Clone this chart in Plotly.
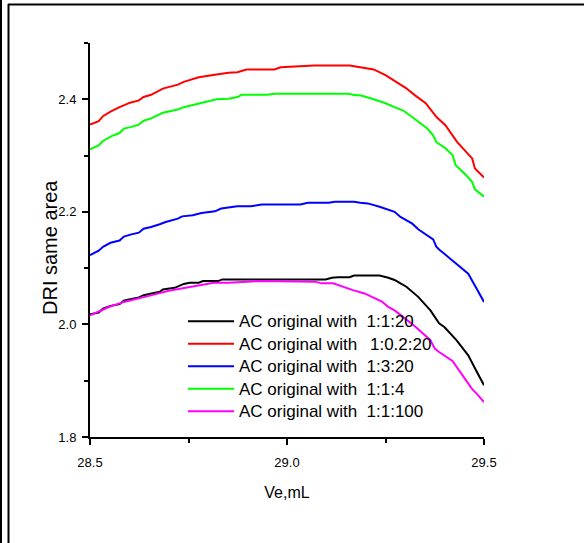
import plotly.graph_objects as go

# ---- data ----
x_red = [28.500, 28.522, 28.533, 28.552, 28.575, 28.602, 28.624, 28.636, 28.655, 28.685, 28.723, 28.738,
         28.776, 28.791, 28.821, 28.852, 28.874, 28.897, 28.968, 28.984, 29.068, 29.159, 29.186, 29.220,
         29.250, 29.280, 29.302, 29.325, 29.352, 29.380, 29.402, 29.432, 29.470, 29.477, 29.500]
y_red = [2.355, 2.361, 2.370, 2.378, 2.386, 2.394, 2.398, 2.404, 2.408, 2.419, 2.426, 2.431,
         2.439, 2.441, 2.444, 2.447, 2.448, 2.453, 2.453, 2.457, 2.460, 2.460, 2.457, 2.453,
         2.443, 2.429, 2.420, 2.407, 2.393, 2.368, 2.354, 2.324, 2.295, 2.277, 2.261]

x_green = [28.500, 28.522, 28.533, 28.556, 28.575, 28.586, 28.605, 28.624, 28.636, 28.655, 28.685, 28.723,
           28.738, 28.776, 28.791, 28.821, 28.852, 28.874, 28.885, 28.950, 28.968, 29.155, 29.174, 29.186,
           29.220, 29.250, 29.273, 29.295, 29.326, 29.356, 29.371, 29.379, 29.402, 29.420, 29.428, 29.455,
           29.470, 29.477, 29.500]
y_green = [2.311, 2.318, 2.326, 2.335, 2.340, 2.348, 2.351, 2.355, 2.362, 2.366, 2.376, 2.382,
           2.386, 2.392, 2.394, 2.400, 2.401, 2.404, 2.408, 2.408, 2.410, 2.410, 2.407, 2.407,
           2.400, 2.393, 2.386, 2.380, 2.364, 2.348, 2.336, 2.324, 2.313, 2.301, 2.283, 2.265,
           2.253, 2.240, 2.227]

x_blue = [28.500, 28.522, 28.533, 28.552, 28.575, 28.586, 28.605, 28.624, 28.636, 28.655, 28.677, 28.692,
          28.723, 28.734, 28.761, 28.783, 28.817, 28.833, 28.874, 28.909, 28.936, 29.034, 29.053, 29.106,
          29.121, 29.170, 29.186, 29.205, 29.235, 29.273, 29.288, 29.318, 29.333, 29.356, 29.371, 29.379,
          29.386, 29.400, 29.430, 29.460, 29.480, 29.500]
y_blue = [2.123, 2.131, 2.138, 2.145, 2.149, 2.156, 2.160, 2.163, 2.170, 2.173, 2.178, 2.182,
          2.188, 2.192, 2.194, 2.198, 2.201, 2.206, 2.210, 2.210, 2.213, 2.213, 2.216, 2.216,
          2.218, 2.218, 2.216, 2.215, 2.209, 2.200, 2.191, 2.179, 2.169, 2.159, 2.151, 2.138,
          2.133, 2.125, 2.108, 2.090, 2.065, 2.040]

x_black = [28.500, 28.522, 28.533, 28.552, 28.575, 28.586, 28.605, 28.624, 28.636, 28.677, 28.685, 28.715,
           28.738, 28.753, 28.776, 28.787, 28.825, 28.836, 29.098, 29.114, 29.129, 29.159, 29.170, 29.235,
           29.257, 29.273, 29.288, 29.303, 29.333, 29.364, 29.386, 29.400, 29.430, 29.460, 29.480, 29.500]
y_black = [2.018, 2.021, 2.028, 2.033, 2.036, 2.042, 2.045, 2.048, 2.052, 2.058, 2.062, 2.065,
           2.072, 2.074, 2.074, 2.077, 2.077, 2.080, 2.080, 2.083, 2.084, 2.084, 2.087, 2.087,
           2.083, 2.079, 2.073, 2.067, 2.049, 2.025, 2.002, 1.995, 1.972, 1.945, 1.918, 1.892]

x_magenta = [28.500, 28.548, 28.586, 28.624, 28.662, 28.700, 28.730, 28.776, 28.814, 28.852, 28.889, 28.927,
             29.072, 29.087, 29.117, 29.136, 29.167, 29.197, 29.220, 29.242, 29.257, 29.273, 29.288, 29.326,
             29.364, 29.375, 29.386, 29.420, 29.450, 29.470, 29.480, 29.500]
y_magenta = [2.016, 2.031, 2.040, 2.046, 2.053, 2.060, 2.064, 2.070, 2.074, 2.074, 2.076, 2.077,
             2.076, 2.073, 2.073, 2.068, 2.061, 2.055, 2.048, 2.040, 2.031, 2.025, 2.017, 1.996,
             1.972, 1.957, 1.951, 1.935, 1.905, 1.885, 1.878, 1.862]

series_names = ["AC original with&nbsp; 1:1:20", "AC original with&nbsp;&#8201; 1:0.2:20",
                "AC original with&nbsp; 1:3:20", "AC original with&nbsp; 1:1:4",
                "AC original with&nbsp; 1:1:100"]
series_colors = ["#000000", "#ff0000", "#0000ff", "#00ff00", "#ff00ff"]

x_ticks = [28.5, 29.0, 29.5]
x_ticklabels = ["28.5", "29.0", "29.5"]
y_ticks = [1.8, 2.0, 2.2, 2.4]
y_ticklabels = ["1.8", "2.0", "2.2", "2.4"]
x_title = "Ve,mL"
y_title = "DRI same area"

xs = [x_black, x_red, x_blue, x_green, x_magenta]
ys = [y_black, y_red, y_blue, y_green, y_magenta]

FONT = "Liberation Sans, Arial, sans-serif"

fig = go.Figure()
for xv, yv, nm, col in zip(xs, ys, series_names, series_colors):
    fig.add_trace(go.Scatter(x=xv, y=yv, mode="lines",
                             name="<span style='font-size:17px'>%s</span>" % nm,
                             line=dict(color=col, width=2, shape="linear")))

L, R, T, B = 90, 100, 43, 106
W, H = 584, 543
pw, ph = W - L - R, H - T - B

def px_x(p):
    return (p - L) / pw

def px_y(p):
    return (H - B - p) / ph

# page frame lines (left double line and top line)
frame = [
    dict(x0=px_x(1), x1=px_x(1), y0=px_y(0), y1=px_y(543)),
    dict(x0=px_x(8.5), x1=px_x(8.5), y0=px_y(4), y1=px_y(543)),
    dict(x0=px_x(8), x1=px_x(584), y0=px_y(4.5), y1=px_y(4.5)),
]
for f in frame:
    fig.add_shape(type="line", xref="paper", yref="paper", line=dict(color="black", width=2), **f)

fig.add_annotation(text=y_title, xref="paper", yref="paper", x=px_x(50), y=px_y(248),
                   xanchor="center", yanchor="middle", textangle=-90, showarrow=False,
                   font=dict(size=20, family=FONT, color="black"))

fig.update_layout(
    width=W, height=H,
    margin=dict(l=L, r=R, t=T, b=B, pad=0),
    paper_bgcolor="white", plot_bgcolor="white",
    font=dict(family=FONT, color="black"),
    showlegend=True,
    legend=dict(x=px_x(183), y=px_y(305), xanchor="left", yanchor="top",
                bgcolor="rgba(0,0,0,0)", borderwidth=0,
                font=dict(size=15, family=FONT), tracegroupgap=0, itemwidth=46),
    xaxis=dict(range=[28.5, 29.5], tickvals=x_ticks, ticktext=x_ticklabels,
               showgrid=False, zeroline=False, showline=True, linecolor="black", linewidth=2,
               ticks="outside", ticklen=6, tickwidth=2, tickcolor="black",
               tickfont=dict(size=13, family=FONT), ticklabelstandoff=6,
               minor=dict(tickvals=[28.75, 29.25], ticks="outside", ticklen=4, tickwidth=2, tickcolor="black"),
               title=dict(text=x_title, font=dict(size=16, family=FONT), standoff=18)),
    yaxis=dict(range=[1.8, 2.5], tickvals=y_ticks, ticktext=y_ticklabels,
               showgrid=False, zeroline=False, showline=True, linecolor="black", linewidth=2,
               ticks="outside", ticklen=6, tickwidth=2, tickcolor="black",
               tickfont=dict(size=13, family=FONT), ticklabelstandoff=3,
               minor=dict(tickvals=[1.9, 2.1, 2.3, 2.5], ticks="outside", ticklen=4, tickwidth=2, tickcolor="black")),
)

fig.write_html("out.html", config={"displayModeBar": False},
               post_script="document.body.style.margin='0';")
